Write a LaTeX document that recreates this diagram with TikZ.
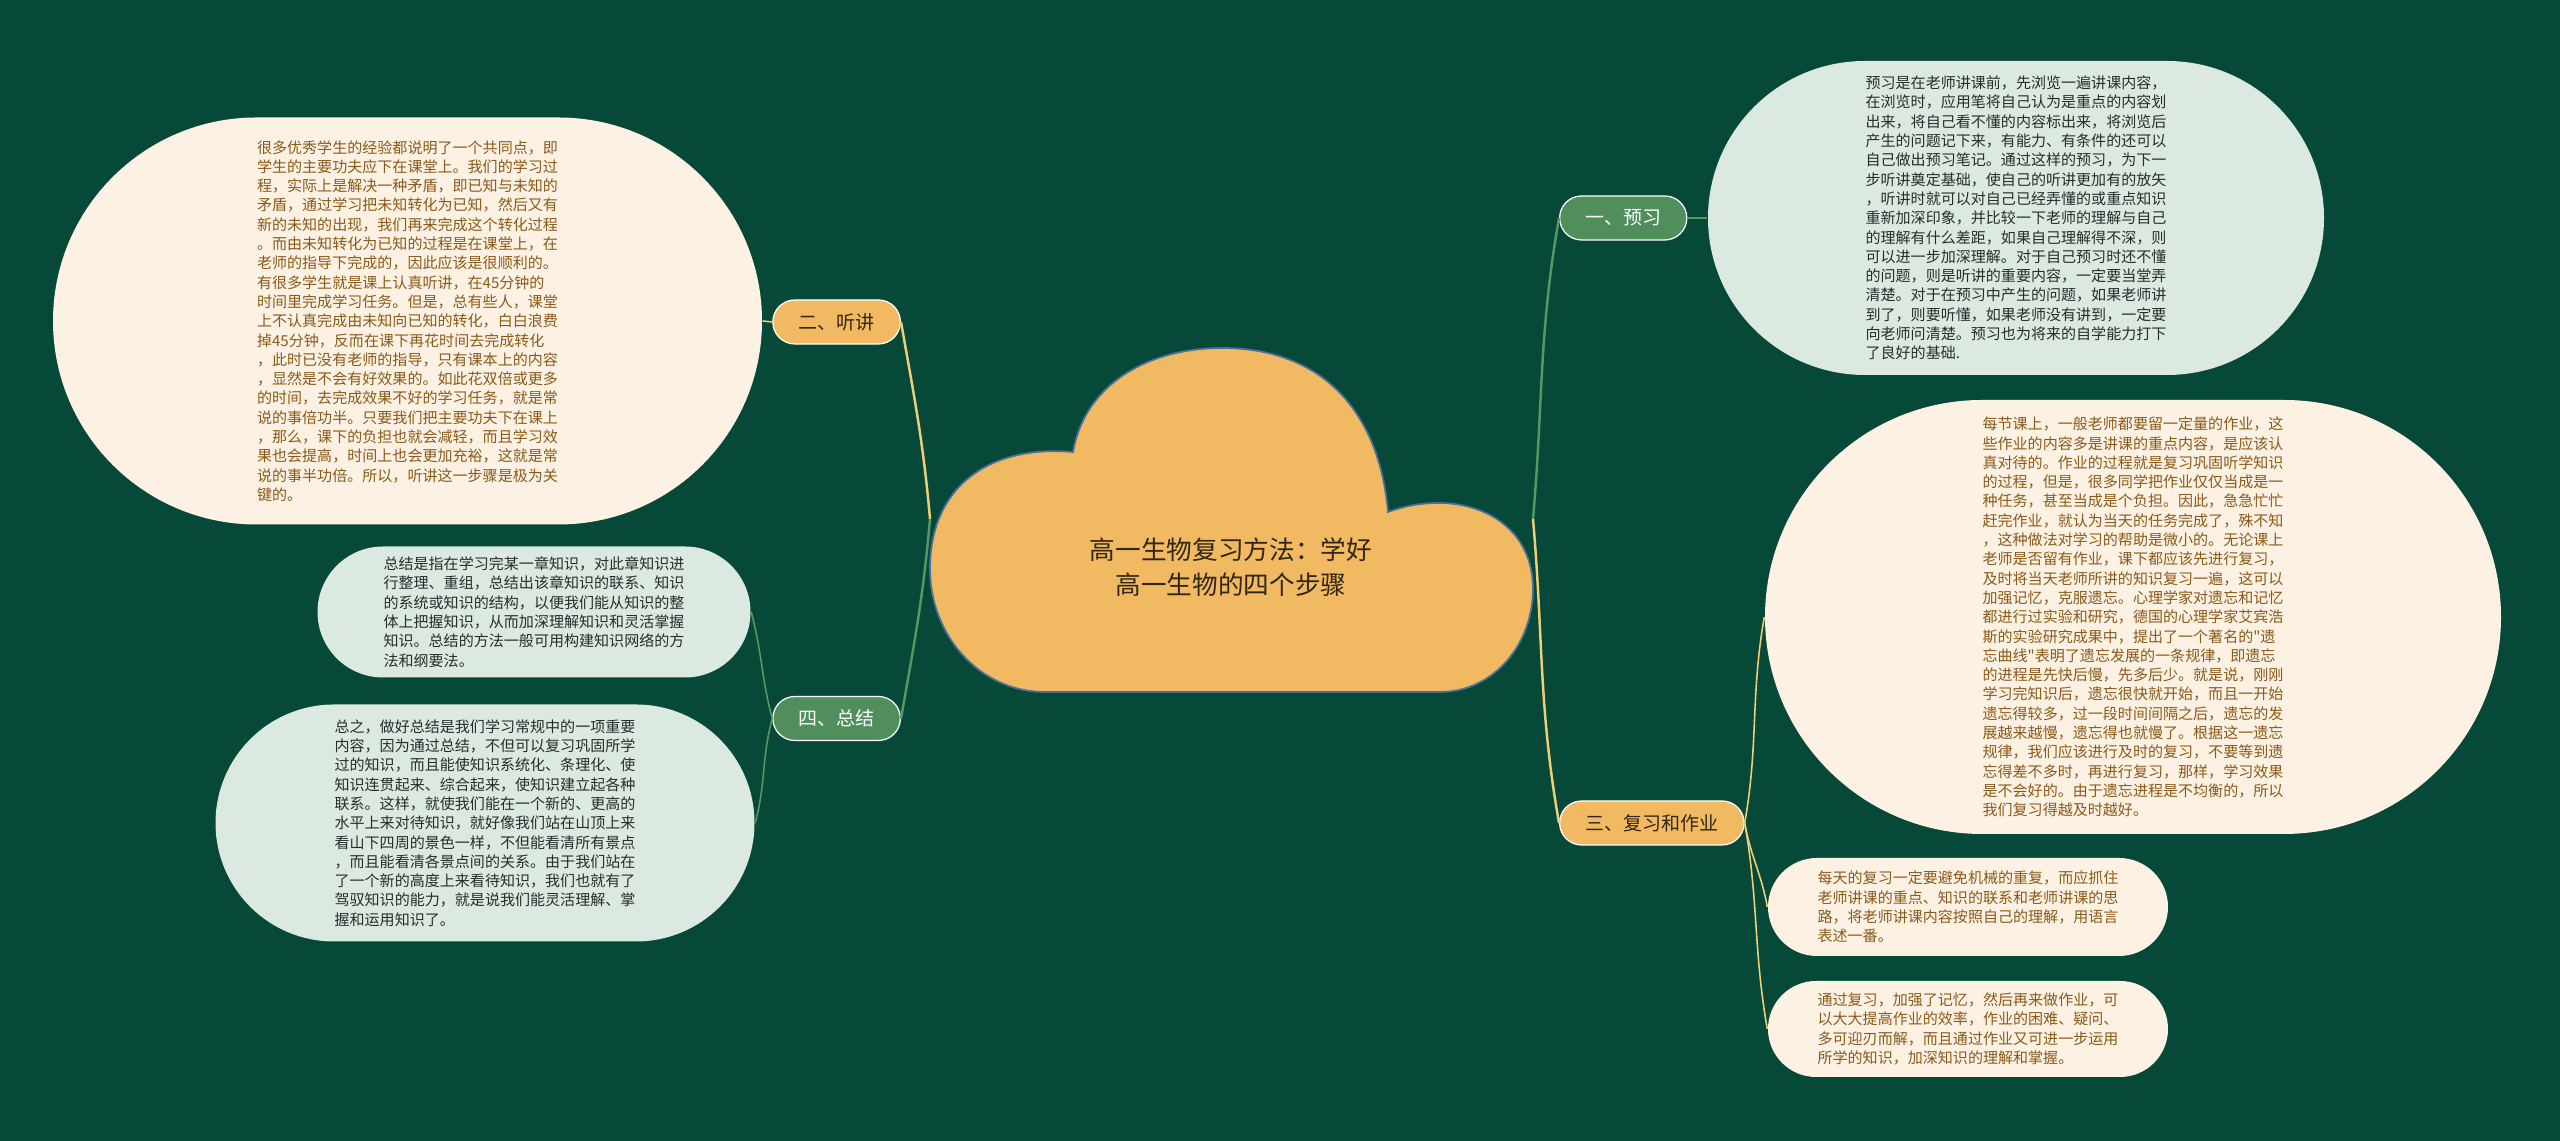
\documentclass[tikz,border=0pt]{standalone}
\usepackage{fontspec}
\usepackage{tikz}
\usetikzlibrary{positioning,shapes.misc}
\newfontfamily\cjk{Noto Sans CJK SC}

\definecolor{fond}{RGB}{7,73,56}
\definecolor{orangeF}{RGB}{240,185,98}
\definecolor{vertF}{RGB}{80,143,92}
\definecolor{creme}{RGB}{252,241,227}
\definecolor{pale}{RGB}{220,233,225}
\definecolor{brun}{RGB}{138,90,26}
\definecolor{gris}{RGB}{40,45,43}
\definecolor{fonce}{RGB}{50,38,20}
\definecolor{jauneL}{RGB}{238,206,118}
\definecolor{vertL}{RGB}{88,150,100}
\definecolor{bord}{RGB}{75,110,155}

\begin{document}
\begin{tikzpicture}[
    theme/.style={draw=white, line width=0.35pt, rounded rectangle, minimum height=0.44cm,
        inner xsep=0.24cm, inner ysep=0pt, font=\cjk\fontsize{5.4}{6.5}\selectfont},
    themeJ/.style={theme, fill=orangeF, text=fonce},
    themeV/.style={theme, fill=vertF, text=white},
    bulle/.style={rounded rectangle, align=left, inner sep=0pt,
        font=\cjk\fontsize{4.28}{5.49}\selectfont},
    bulleC/.style={bulle, fill=creme, text=brun},
    bulleV/.style={bulle, fill=pale, text=gris},
    lienJ/.style={draw=jauneL, line width=0.7pt},
    lienV/.style={draw=vertL, line width=0.7pt},
    fin/.style={line width=0.45pt}
]
    % Fond
    \useasboundingbox (0,0) rectangle (25.6,11.41);
    \fill[fond] (0,0) rectangle (25.6,11.41);

    % Nuage central
    \filldraw[fill=orangeF, draw=bord, line width=0.5pt]
        (10.73,6.89) to[out=175,in=90,looseness=1.15] (9.30,5.72)
        to[out=-90,in=180] (10.45,4.49) -- (14.40,4.49)
        to[out=0,in=-90] (15.33,5.52)
        to[out=90,in=20,looseness=1.15] (13.88,6.29)
        to[out=95,in=0,looseness=1.1] (12.22,7.93)
        to[out=180,in=80] (10.73,6.89) -- cycle;
    \node[font=\cjk\fontsize{7.3}{9.9}\selectfont, text=fonce, align=center] (racine)
        at (12.31,5.735) {高一生物复习方法：学好\\高一生物的四个步骤};
    \coordinate (jg) at (9.30,6.22);
    \coordinate (jd) at (15.33,6.22);

    % Branches
    \node[themeJ, anchor=east] (ting) at (9.01,8.19) {二、听讲};
    \node[themeV, anchor=east] (zong) at (9.01,4.225) {四、总结};
    \node[themeV, anchor=west] (yu) at (15.59,9.23) {一、预习};
    \node[themeJ, anchor=west] (fu) at (15.59,3.18) {三、复习和作业};

    % Gauche
    \node[bulleC, minimum width=7.09cm, minimum height=4.07cm] (tingA) at (4.075,8.20) {很多优秀学生的经验都说明了一个共同点，即\\
学生的主要功夫应下在课堂上。我们的学习过\\
程，实际上是解决一种矛盾，即已知与未知的\\
矛盾，通过学习把未知转化为已知，然后又有\\
新的未知的出现，我们再来完成这个转化过程\\
。而由未知转化为已知的过程是在课堂上，在\\
老师的指导下完成的，因此应该是很顺利的。\\
有很多学生就是课上认真听讲，在45分钟的\\
时间里完成学习任务。但是，总有些人，课堂\\
上不认真完成由未知向已知的转化，白白浪费\\
掉45分钟，反而在课下再花时间去完成转化\\
，此时已没有老师的指导，只有课本上的内容\\
，显然是不会有好效果的。如此花双倍或更多\\
的时间，去完成效果不好的学习任务，就是常\\
说的事倍功半。只要我们把主要功夫下在课上\\
，那么，课下的负担也就会减轻，而且学习效\\
果也会提高，时间上也会更加充裕，这就是常\\
说的事半功倍。所以，听讲这一步骤是极为关\\
键的。};
    \node[bulleV, minimum width=4.33cm, minimum height=1.31cm] (zongA) at (5.34,5.29) {总结是指在学习完某一章知识，对此章知识进\\
行整理、重组，总结出该章知识的联系、知识\\
的系统或知识的结构，以便我们能从知识的整\\
体上把握知识，从而加深理解知识和灵活掌握\\
知识。总结的方法一般可用构建知识网络的方\\
法和纲要法。};
    \node[bulleV, minimum width=5.39cm, minimum height=2.37cm] (zongB) at (4.85,3.18) {总之，做好总结是我们学习常规中的一项重要\\
内容，因为通过总结，不但可以复习巩固所学\\
过的知识，而且能使知识系统化、条理化、使\\
知识连贯起来、综合起来，使知识建立起各种\\
联系。这样，就使我们能在一个新的、更高的\\
水平上来对待知识，就好像我们站在山顶上来\\
看山下四周的景色一样，不但能看清所有景点\\
，而且能看清各景点间的关系。由于我们站在\\
了一个新的高度上来看待知识，我们也就有了\\
驾驭知识的能力，就是说我们能灵活理解、掌\\
握和运用知识了。};

    % Droite
    \node[bulleV, minimum width=6.16cm, minimum height=3.14cm] (yuA) at (20.16,9.23) {预习是在老师讲课前，先浏览一遍讲课内容，\\
在浏览时，应用笔将自己认为是重点的内容划\\
出来，将自己看不懂的内容标出来，将浏览后\\
产生的问题记下来，有能力、有条件的还可以\\
自己做出预习笔记。通过这样的预习，为下一\\
步听讲奠定基础，使自己的听讲更加有的放矢\\
，听讲时就可以对自己已经弄懂的或重点知识\\
重新加深印象，并比较一下老师的理解与自己\\
的理解有什么差距，如果自己理解得不深，则\\
可以进一步加深理解。对于自己预习时还不懂\\
的问题，则是听讲的重要内容，一定要当堂弄\\
清楚。对于在预习中产生的问题，如果老师讲\\
到了，则要听懂，如果老师没有讲到，一定要\\
向老师问清楚。预习也为将来的自学能力打下\\
了良好的基础.};
    \node[bulleC, minimum width=7.36cm, minimum height=4.34cm] (fuA) at (21.33,5.24) {每节课上，一般老师都要留一定量的作业，这\\
些作业的内容多是讲课的重点内容，是应该认\\
真对待的。作业的过程就是复习巩固听学知识\\
的过程，但是，很多同学把作业仅仅当成是一\\
种任务，甚至当成是个负担。因此，急急忙忙\\
赶完作业，就认为当天的任务完成了，殊不知\\
，这种做法对学习的帮助是微小的。无论课上\\
老师是否留有作业，课下都应该先进行复习，\\
及时将当天老师所讲的知识复习一遍，这可以\\
加强记忆，克服遗忘。心理学家对遗忘和记忆\\
都进行过实验和研究，德国的心理学家艾宾浩\\
斯的实验研究成果中，提出了一个著名的"遗\\
忘曲线"表明了遗忘发展的一条规律，即遗忘\\
的进程是先快后慢，先多后少。就是说，刚刚\\
学习完知识后，遗忘很快就开始，而且一开始\\
遗忘得较多，过一段时间间隔之后，遗忘的发\\
展越来越慢，遗忘得也就慢了。根据这一遗忘\\
规律，我们应该进行及时的复习，不要等到遗\\
忘得差不多时，再进行复习，那样，学习效果\\
是不会好的。由于遗忘进程是不均衡的，所以\\
我们复习得越及时越好。};
    \node[bulleC, minimum width=4.0cm, minimum height=0.98cm] (fuB) at (19.68,2.34) {每天的复习一定要避免机械的重复，而应抓住\\
老师讲课的重点、知识的联系和老师讲课的思\\
路，将老师讲课内容按照自己的理解，用语言\\
表述一番。};
    \node[bulleC, minimum width=4.0cm, minimum height=0.96cm] (fuC) at (19.68,1.12) {通过复习，加强了记忆，然后再来做作业，可\\
以大大提高作业的效率，作业的困难、疑问、\\
多可迎刃而解，而且通过作业又可进一步运用\\
所学的知识，加深知识的理解和掌握。};

    % Liens
    \draw[lienJ] (jg) to[out=95,in=-80] (ting.east);
    \draw[lienV] (jg) to[out=-95,in=80] (zong.east);
    \draw[lienV] (jd) to[out=85,in=-100] (yu.west);
    \draw[lienJ] (jd) to[out=-85,in=100] (fu.west);
    \draw[lienJ, fin] (ting.west) -- (tingA.east);
    \draw[lienV, fin] (zong.west) to[out=105,in=-75] (zongA.east);
    \draw[lienV, fin] (zong.west) to[out=-105,in=75] (zongB.east);
    \draw[lienV, fin] (yu.east) -- (yuA.west);
    \draw[lienJ, fin] (fu.east) to[out=80,in=-100] (fuA.west);
    \draw[lienJ, fin] (fu.east) to[out=-80,in=100] (fuB.west);
    \draw[lienJ, fin] (fu.east) to[out=-80,in=100] (fuC.west);
\end{tikzpicture}
\end{document}
